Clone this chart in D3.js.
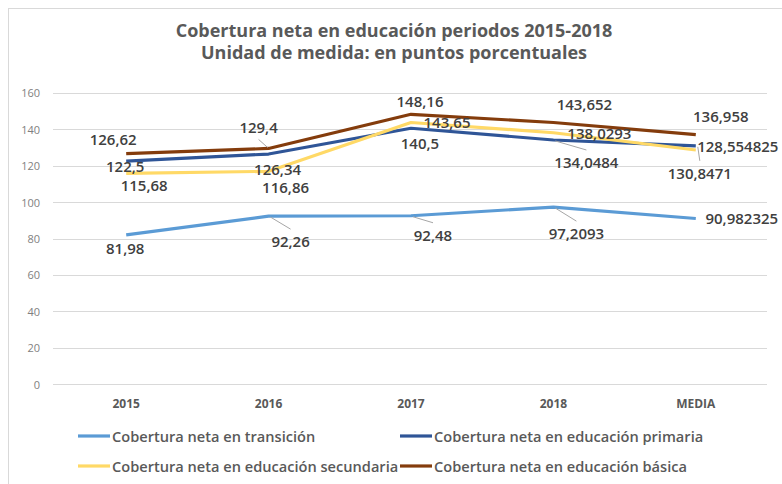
<!DOCTYPE html>
<html lang="es">
<head>
  <meta charset="UTF-8">
  <title>Cobertura neta en educación</title>
  <script src="https://d3js.org/d3.v7.min.js"></script>
  <style>
    body { margin: 0; background: #fff; }
    svg { display: block; font-family: "Open Sans", "Noto Sans", sans-serif; }
    .grid line { stroke: #d9d9d9; stroke-width: 1; }
    .ylab { fill: #7f7f7f; font-size: 11px; }
    .xlab { fill: #595959; font-size: 12px; font-weight: 700; }
    .dlab { fill: #404040; font-size: 15px; font-weight: 600; }
    .legend text { fill: #595959; font-size: 14.6px; font-weight: 600; }
  </style>
</head>
<body>
  <svg width="782" height="484"></svg>

  <script>
    const width = 782, height = 484;

    // data
    const categories = ["2015", "2016", "2017", "2018", "MEDIA"];
    const seriesNames = [
      "Cobertura neta en transición",
      "Cobertura neta en educación primaria",
      "Cobertura neta en educación secundaria",
      "Cobertura neta en educación básica"
    ];
    const transicion = [81.98, 92.26, 92.48, 97.2093, 90.982325];
    const primaria = [122.5, 126.34, 140.5, 134.0484, 130.8471];
    const secundaria = [115.68, 116.86, 143.65, 138.0293, 128.554825];
    const basica = [126.62, 129.4, 148.16, 143.652, 136.958];
    const yTicks = [0, 20, 40, 60, 80, 100, 120, 140, 160];

    const colors = ["#5b9bd5", "#2f5597", "#ffd966", "#843c0c"];
    const allSeries = [transicion, primaria, secundaria, basica];

    // label nudges [dx, dy, leader] per series / point, like the manual placement in the original
    const labelNudge = [
      [[-1, 13, 0], [22, 25, 1], [22, 19, 1], [23, 26, 1], [46, 0, 0]],
      [[-1, 5, 0], [9, 15, 0], [9, 15, 0], [33, 22, 1], [4, 27, 1]],
      [[18, 12, 0], [17, 16, 0], [36, 0, 0], [46, 0, 0], [42, -4, 0]],
      [[-13, -15, 0], [-10, -21, 1], [9, -13, 0], [31, -18, 0], [25, -19, 0]]
    ];

    const svg = d3.select("svg");

    // outer border of the chart area
    svg.append("rect")
      .attr("x", 8.5).attr("y", 8.5)
      .attr("width", width).attr("height", height)
      .attr("fill", "none").attr("stroke", "#d9d9d9");

    const x = d3.scalePoint().domain(categories).range([55, 767]).padding(0.5);
    const y = d3.scaleLinear().domain([0, 160]).range([384.3, 92.7]);

    // title
    const title = svg.append("text")
      .attr("x", 394).attr("text-anchor", "middle")
      .attr("fill", "#595959").style("font-size", "18px").style("font-weight", 700);
    title.append("tspan").attr("x", 394).attr("y", 37).text("Cobertura neta en educación periodos 2015-2018");
    title.append("tspan").attr("x", 394).attr("y", 59).text("Unidad de medida: en puntos porcentuales");

    // grid + y labels
    svg.append("g").attr("class", "grid")
      .selectAll("line").data(yTicks).join("line")
      .attr("x1", 53).attr("x2", 767)
      .attr("y1", d => Math.round(y(d)) + 0.5).attr("y2", d => Math.round(y(d)) + 0.5);

    svg.append("g").selectAll("text").data(yTicks).join("text")
      .attr("class", "ylab")
      .attr("x", 40).attr("y", d => y(d))
      .attr("text-anchor", "end").attr("dominant-baseline", "central")
      .text(d => d);

    svg.append("g").selectAll("text").data(categories).join("text")
      .attr("class", "xlab")
      .attr("x", d => x(d)).attr("y", 403)
      .attr("text-anchor", "middle").attr("dominant-baseline", "central")
      .text(d => d);

    // lines
    const line = d3.line().x((d, i) => x(categories[i])).y(d => y(d));
    svg.append("g").selectAll("path").data(allSeries).join("path")
      .attr("d", line)
      .attr("fill", "none")
      .attr("stroke", (d, i) => colors[i])
      .attr("stroke-width", 3.2)
      .attr("stroke-linejoin", "round");

    // data labels with leader lines
    const fmt = v => String(v).replace(".", ",");
    allSeries.forEach((vals, s) => {
      vals.forEach((v, i) => {
        const px = x(categories[i]), py = y(v);
        const [dx, dy, leader] = labelNudge[s][i];
        const cx = px + dx, cy = py + dy;
        if (leader) {
          const sgn = dy > 0 ? 1 : -1;
          svg.append("line")
            .attr("x1", px + (dx > 0 ? 2 : -1)).attr("y1", py + sgn * 1)
            .attr("x2", cx).attr("y2", cy - sgn * 12)
            .attr("stroke", "#a6a6a6").attr("stroke-width", 1);
        }
        svg.append("text")
          .attr("class", "dlab")
          .attr("x", cx).attr("y", cy)
          .attr("text-anchor", "middle").attr("dominant-baseline", "central")
          .text(fmt(v));
      });
    });

    // legend
    const legendPos = [[78, 436], [400, 436], [78, 466], [400, 466]];
    const lg = svg.append("g").attr("class", "legend")
      .selectAll("g").data(seriesNames).join("g")
      .attr("transform", (d, i) => `translate(${legendPos[i][0]},${legendPos[i][1]})`);
    lg.append("line")
      .attr("x1", 0).attr("x2", 32).attr("y1", 0).attr("y2", 0)
      .attr("stroke", (d, i) => colors[i]).attr("stroke-width", 3.2);
    lg.append("text")
      .attr("x", 34).attr("y", 0).attr("dominant-baseline", "central")
      .text(d => d);
  </script>
</body>
</html>
